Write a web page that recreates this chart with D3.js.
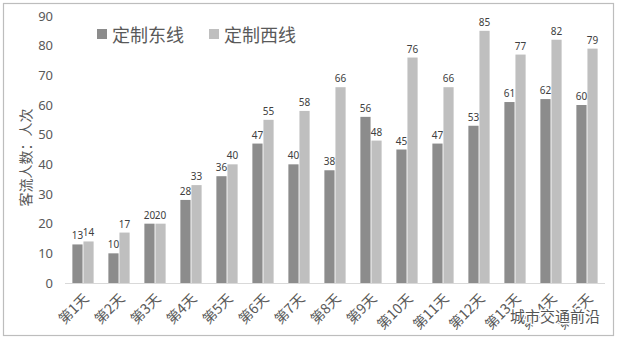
<!DOCTYPE html>
<html>
<head>
<meta charset="utf-8">
<script src="https://cdn.jsdelivr.net/npm/d3@7"></script>
<style>
  html, body { margin: 0; padding: 0; background: #fff; }
  svg { display: block; font-family: "Noto Sans CJK SC", "Noto Sans", sans-serif; }
</style>
</head>
<body>
<svg id="chart" width="618" height="340"></svg>
<script>
const days = ["第1天","第2天","第3天","第4天","第5天","第6天","第7天","第8天","第9天","第10天","第11天","第12天","第13天","第14天","第15天"];
const eastLine = [13,10,20,28,36,47,40,38,56,45,47,53,61,62,60];
const westLine = [14,17,20,33,40,55,58,66,48,76,66,85,77,82,79];
const seriesNames = ["定制东线","定制西线"];
const seriesColors = ["#8c8c8c","#bfbfbf"];
const yTicks = [0,10,20,30,40,50,60,70,80,90];

const svg = d3.select("#chart");
const W = 618, H = 340;

// outer frame
svg.append("rect").attr("x", 3.5).attr("y", 3.5).attr("width", 610).attr("height", 332)
  .attr("fill", "#fff").attr("stroke", "#bdbdbd").attr("stroke-width", 1.2);

const margin = {left: 65, right: 13, top: 16, bottom: 57};
const x = d3.scaleBand().domain(days).range([margin.left, W - margin.right]).paddingInner(0.41).paddingOuter(0.205);
const x1 = d3.scaleBand().domain([0,1]).range([0, x.bandwidth()]).paddingInner(0.08);
const y = d3.scaleLinear().domain([0, 90]).range([H - margin.bottom, margin.top]);

// y axis labels
const yAxis = svg.append("g").attr("transform", `translate(${margin.left - 12},0)`)
  .call(d3.axisLeft(y).tickValues(yTicks).tickSize(0).tickPadding(0));
yAxis.select(".domain").remove();
yAxis.selectAll("text").attr("fill", "#595959").style("font-size", "13px")
  .style("font-family", "'Noto Sans', sans-serif");

// baseline
svg.append("line").attr("x1", margin.left).attr("x2", W - margin.right)
  .attr("y1", y(0) + 0.5).attr("y2", y(0) + 0.5).attr("stroke", "#d9d9d9").attr("stroke-width", 1);

// bars
const data = days.map((d, i) => ({day: d, vals: [eastLine[i], westLine[i]]}));
const groups = svg.append("g").selectAll("g").data(data).join("g")
  .attr("transform", d => `translate(${x(d.day)},0)`);
groups.selectAll("rect").data(d => d.vals).join("rect")
  .attr("x", (v, j) => x1(j)).attr("width", x1.bandwidth())
  .attr("y", v => y(v)).attr("height", v => y(0) - y(v))
  .attr("fill", (v, j) => seriesColors[j]);
groups.selectAll("text").data(d => d.vals).join("text")
  .attr("x", (v, j) => x1(j) + x1.bandwidth() / 2).attr("y", v => y(v) - 5)
  .attr("text-anchor", "middle").attr("fill", "#404040")
  .style("font-size", "10px").style("font-family", "'Noto Sans', sans-serif")
  .text(v => v);

// x labels, rotated
svg.append("g").selectAll("text").data(days).join("text")
  .attr("transform", d => `translate(${x(d) + x.bandwidth() / 2 + 4},${y(0) + 14}) rotate(-45)`)
  .attr("text-anchor", "end").attr("dominant-baseline", "middle")
  .attr("fill", "#595959").style("font-size", "14px")
  .text(d => d);

// y axis title
svg.append("text").attr("transform", `translate(31,${(margin.top + y(0)) / 2 + 8}) rotate(-90)`)
  .attr("text-anchor", "middle").attr("fill", "#595959").style("font-size", "14px")
  .text("客流人数：人次");

// legend
const legend = svg.append("g").attr("transform", "translate(97,29)");
const items = legend.selectAll("g").data(seriesNames).join("g")
  .attr("transform", (d, i) => `translate(${i * 112},0)`);
items.append("rect").attr("width", 10).attr("height", 10).attr("fill", (d, i) => seriesColors[i]);
items.append("text").attr("x", 15).attr("y", 5).attr("dominant-baseline", "central")
  .attr("fill", "#595959").style("font-size", "18px").text(d => d);

// publisher mark
svg.append("text").attr("x", 600).attr("y", 322).attr("text-anchor", "end")
  .attr("fill", "#555").attr("stroke", "#fff").attr("stroke-width", 3).attr("paint-order", "stroke")
  .style("font-size", "15px").text("城市交通前沿");
</script>
</body>
</html>
